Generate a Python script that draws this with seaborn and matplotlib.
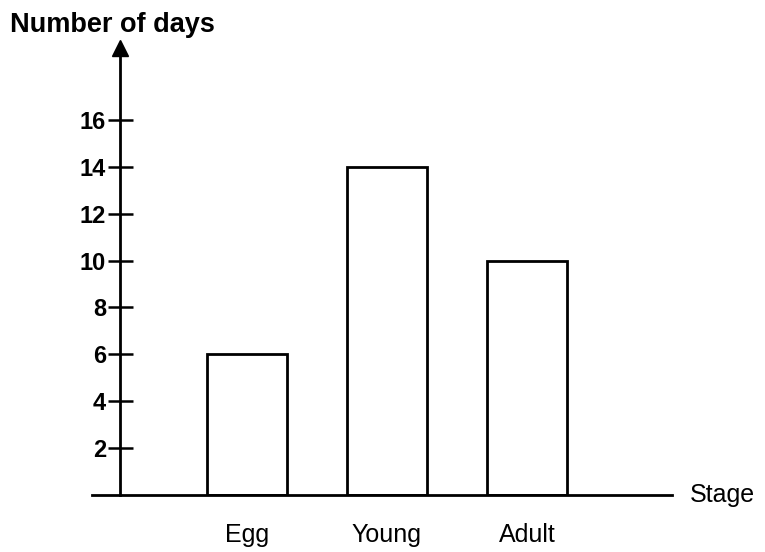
import matplotlib
matplotlib.use("Agg")
import matplotlib.pyplot as plt
import seaborn as sns
import pandas as pd

# Data
stages = ["Egg", "Young", "Adult"]
days = [6, 14, 10]
y_ticks = [2, 4, 6, 8, 10, 12, 14, 16]

sns.set_style("white")
plt.rcParams['font.family'] = ['Liberation Sans', 'DejaVu Sans']
plt.rcParams.update({
    'text.color': 'black',
    'xtick.color': 'black',
    'ytick.color': 'black',
    'axes.labelcolor': 'black',
})

df = pd.DataFrame({"stage": stages, "days": days})

fig = plt.figure(figsize=(7.65, 5.52), dpi=100)
# axes placed so the x axis runs from px 92 to 672, y from 495 (0) up to the arrow
ax = fig.add_axes([92 / 765, 1 - 495 / 552, 580 / 765, (495 - 48) / 552])

sns.barplot(data=df, x="stage", y="days", color="white", edgecolor="black",
            linewidth=2.0, width=0.57, saturation=1, ax=ax)

ax.set_xlim(-1.107, 3.036)
ax.set_ylim(0, 19.07)

# spines: bottom axis line and an arrowed vertical axis
for s in ["top", "right"]:
    ax.spines[s].set_visible(False)
yaxis_pos = (120 - 92) / 580
ax.spines["left"].set_position(("axes", yaxis_pos))
ax.spines["left"].set_linewidth(2.0)
ax.spines["bottom"].set_linewidth(2.0)
ax.spines["left"].set_color("black")
ax.spines["bottom"].set_color("black")
ax.plot([yaxis_pos], [1.0], marker="^", color="black", markersize=11,
        transform=ax.transAxes, clip_on=False)

ax.set_yticks(y_ticks)
ax.set_yticklabels([str(t) for t in y_ticks], fontsize=17, fontweight="bold")
ax.tick_params(axis="y", direction="inout", length=18, width=1.8, pad=1, left=True)
ax.tick_params(axis="x", length=0, pad=20, labelsize=18)

ax.set_xlabel("")
ax.set_ylabel("")

ax.text(1.031, 0.0, "Stage", transform=ax.transAxes, ha="left", va="center",
        fontsize=18)
fig.text(10 / 765, 1 - 25 / 552, "Number of days", ha="left", va="center",
         fontsize=19.5, fontweight="bold")

fig.savefig("out.png", dpi=100)
